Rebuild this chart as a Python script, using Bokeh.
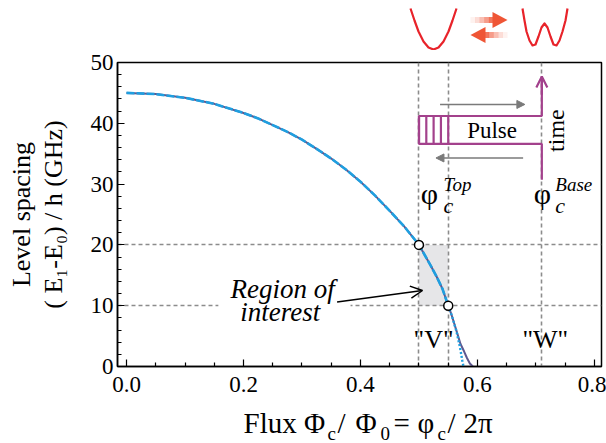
import math
from bokeh.plotting import figure
from bokeh.layouts import column
from bokeh.models import (Range1d, FixedTicker, Label, Arrow, OpenHead, NormalHead, BoxAnnotation,
                          NumeralTickFormatter, LinearAxis)
from bokeh.embed import file_html
from bokeh.resources import INLINE

SERIF = "Liberation Serif"

# ---------------- data ----------------
main_flux = [0.00, 0.05, 0.10, 0.15, 0.20, 0.225, 0.25, 0.275, 0.30, 0.325, 0.35, 0.375,
             0.40, 0.425, 0.45, 0.475, 0.50, 0.51, 0.52, 0.53, 0.54, 0.55]
main_gap = [45.0, 44.8, 44.2, 43.2, 41.7, 40.8, 39.7, 38.6, 37.3, 35.8, 34.2, 32.4,
            30.4, 28.1, 25.6, 23.0, 20.0, 18.3, 16.6, 14.8, 12.8, 10.0]
exact_tail_flux = [0.55, 0.556, 0.564, 0.571, 0.577, 0.582, 0.587, 0.592]
exact_tail_gap = [10.0, 8.4, 5.9, 3.7, 2.5, 1.4, 0.5, 0.0]
approx_tail_flux = [0.55, 0.556, 0.564, 0.570, 0.574, 0.576]
approx_tail_gap = [10.0, 8.4, 5.8, 3.2, 1.0, 0.0]

roi_flux = [0.50, 0.55]
roi_gap = [20.0, 10.0]
phi_base = 0.71

x_ticks = [0.0, 0.2, 0.4, 0.6, 0.8]
x_minor = [0.05, 0.10, 0.15, 0.25, 0.30, 0.35, 0.45, 0.50, 0.55, 0.65, 0.70, 0.75]
y_ticks = [0, 10, 20, 30, 40, 50]
y_minor = [2, 4, 6, 8, 12, 14, 16, 18, 22, 24, 26, 28, 32, 34, 36, 38, 42, 44, 46, 48]

# pulse sketch (magenta)
pulse_x = [0.71, 0.71, 0.50, 0.50, 0.71, 0.71]
pulse_y = [30.7, 36.6, 36.6, 41.2, 41.2, 47.7]
hatch_x = [0.50, 0.5125, 0.525, 0.5375, 0.55]

# top icons (page pixel coordinates)
v_icon_x = [410, 414, 418, 423, 428, 433, 438, 443, 448, 452, 456]
v_icon_y = [8, 20, 31, 41, 47, 49, 47, 41, 31, 20, 8]
w_icon_x = [522, 524, 526, 529, 532, 535, 538, 541, 544, 547, 550, 553, 556, 559, 562, 565, 567]
w_icon_y = [8, 20, 31, 40, 45, 44, 36, 27, 23, 27, 36, 44, 45, 40, 31, 20, 8]

FRAME_L, FRAME_R = 117, 601
TOP_H, MAIN_H = 50, 356
BOT_H = 443 - TOP_H - MAIN_H


def dlabel(fig, text, x, y, size, style="normal", align="left", baseline="alphabetic", angle=0.0, lift=True):
    fig.add_layout(Label(x=x, y=y, text=text, text_font=SERIF, text_font_size=f"{size}px",
                         text_font_style=style, text_color="black", text_align=align,
                         text_baseline=baseline, angle=angle,
                         y_offset=round(0.3 * size) if lift else 0))


def strip(height, y0, y1):
    f = figure(width=606, height=height, x_range=Range1d(FRAME_L, FRAME_R), y_range=Range1d(y1, y0),
               output_backend="svg", toolbar_location=None, min_border_left=FRAME_L,
               min_border_right=606 - FRAME_R, min_border_top=0, min_border_bottom=0)
    f.axis.visible = False
    f.grid.visible = False
    f.outline_line_color = None
    return f


# ---------------- top strip with V / W icons ----------------
top = strip(TOP_H, 0, TOP_H)
RED = "#e8232a"
top.line(v_icon_x, v_icon_y, line_color=RED, line_width=2.2, line_join="round")
top.line(w_icon_x, w_icon_y, line_color=RED, line_width=2.2, line_join="round")

ARW = "#ef5535"
shaft_alpha = [0.08, 0.2, 0.38, 0.58, 0.8]
seg = (493 - 470) / len(shaft_alpha)
for i, a in enumerate(shaft_alpha):
    top.quad(left=470 + i * seg, right=470 + (i + 1) * seg + 0.3, top=16.5, bottom=22.5,
             fill_color=ARW, fill_alpha=a, line_color=None)
top.patch([492, 507, 492], [11.5, 19.5, 27.5], fill_color=ARW, line_color=None)
seg = (507 - 484) / len(shaft_alpha)
for i, a in enumerate(shaft_alpha):
    top.quad(left=507 - (i + 1) * seg - 0.3, right=507 - i * seg, top=31.5, bottom=37.5,
             fill_color=ARW, fill_alpha=a, line_color=None)
top.patch([485, 470, 485], [26.5, 34.5, 42.5], fill_color=ARW, line_color=None)

# ---------------- main plot ----------------
p = figure(width=606, height=MAIN_H, x_range=Range1d(-0.0154, 0.812), y_range=Range1d(0, 50),
           output_backend="svg", toolbar_location=None,
           min_border_left=FRAME_L, min_border_right=606 - FRAME_R, min_border_top=62 - TOP_H,
           min_border_bottom=TOP_H + MAIN_H - 366)
p.grid.visible = False
p.outline_line_color = "black"
p.outline_line_width = 1.5

outer = LinearAxis(axis_label="Level spacing", ticker=FixedTicker(ticks=[]),
                   axis_line_color=None, major_tick_line_color=None, minor_tick_line_color=None,
                   major_label_text_font_size="0px")
p.add_layout(outer, "left")

for ax, ticks, minor in ((p.xaxis[0], x_ticks, x_minor), (p.yaxis[0], y_ticks, y_minor)):
    ax.ticker = FixedTicker(ticks=ticks, minor_ticks=minor)
    ax.axis_line_color = "black"
    ax.axis_line_width = 1.5
    ax.major_tick_in = 7
    ax.major_tick_out = 0
    ax.minor_tick_in = 4
    ax.minor_tick_out = 0
    ax.major_tick_line_color = "black"
    ax.minor_tick_line_color = "black"
    ax.major_tick_line_width = 1.2
    ax.minor_tick_line_width = 1.2
    ax.major_label_text_font = SERIF
    ax.major_label_text_font_size = "23px"
    ax.major_label_text_color = "black"
p.xaxis[0].axis_label = None
p.xaxis[0].formatter = NumeralTickFormatter(format="0.0")
p.xaxis[0].major_label_standoff = 10
p.yaxis[0].major_label_standoff = 4
p.yaxis[0].axis_label = "( E\u2081-E\u2080) / h (GHz)"
p.yaxis[0].axis_label_standoff = 20
for ax in (p.yaxis[0], outer):
    ax.axis_label_text_font = SERIF
    ax.axis_label_text_font_size = "26px"
    ax.axis_label_text_font_style = "normal"
    ax.axis_label_text_color = "black"
outer.axis_label_standoff = 0

GRID = "#8c8c8c"
p.quad(left=[min(roi_flux)], right=[max(roi_flux)], bottom=[min(roi_gap)], top=[max(roi_gap)],
       fill_color="#e6e6e8", line_color=None)
p.vspan(x=roi_flux + [phi_base], line_color=GRID, line_width=1.6, line_dash="4 3")
p.hspan(y=roi_gap, line_color=GRID, line_width=1.6, line_dash="4 3")

PURPLE = "#5e5890"
CYAN = "#1f9fe0"
p.line(main_flux + exact_tail_flux[1:], main_gap + exact_tail_gap[1:], line_color=PURPLE, line_width=2.0)
p.line(main_flux, main_gap, line_color=CYAN, line_width=2.6, line_dash="8 2")
p.line(approx_tail_flux, approx_tail_gap, line_color=CYAN, line_width=2.4, line_dash="2 2")

p.scatter(roi_flux, roi_gap, size=9, fill_color="white", line_color="black", line_width=1.5)

MAG = "#a3418c"
p.line(pulse_x, pulse_y, line_color=MAG, line_width=2.2)
p.segment(x0=hatch_x, y0=[pulse_y[2]] * len(hatch_x), x1=hatch_x, y1=[pulse_y[3]] * len(hatch_x),
          line_color=MAG, line_width=2.2)
p.add_layout(Arrow(x_start=phi_base, y_start=pulse_y[-1] - 3, x_end=phi_base, y_end=pulse_y[-1],
                   line_color=MAG, line_width=2.2,
                   end=OpenHead(size=11, line_color=MAG, line_width=2.2)))
GREY = "#7a7a7a"
p.add_layout(Arrow(x_start=0.536, y_start=43.1, x_end=0.681, y_end=43.1, line_color=GREY, line_width=1.4,
                   end=NormalHead(size=8, fill_color=GREY, line_color=GREY)))
p.add_layout(Arrow(x_start=0.678, y_start=34.3, x_end=0.529, y_end=34.3, line_color=GREY, line_width=1.4,
                   end=NormalHead(size=8, fill_color=GREY, line_color=GREY)))

dlabel(p, "Pulse", 0.625, 37.7, 23, align="center")
dlabel(p, "time", 0.7345, 38.8, 24, align="center", baseline="middle", angle=math.pi / 2, lift=False)

dlabel(p, "φ", 0.503, 28.5, 30, lift=False)
dlabel(p, "c", 0.542, 26.5, 22, style="italic", lift=False)
dlabel(p, "Top", 0.542, 30.0, 19, style="italic", lift=False)
dlabel(p, "φ", 0.696, 28.5, 30, lift=False)
dlabel(p, "c", 0.733, 26.5, 22, style="italic", lift=False)
dlabel(p, "Base", 0.733, 30.0, 19, style="italic", lift=False)

dlabel(p, "\"V\"", 0.525, 3.1, 26, align="center")
dlabel(p, "\"W\"", 0.716, 3.1, 26, align="center")

p.add_layout(BoxAnnotation(left=0.157, right=0.383, bottom=8.6, top=11.4, fill_color="white",
                           fill_alpha=1.0, line_color=None))
p.add_layout(Arrow(x_start=0.360, y_start=10.6, x_end=0.506, y_end=12.5, line_color="black", line_width=1.5,
                   end=OpenHead(size=12, line_color="black", line_width=1.5)))
dlabel(p, "Region of", 0.267, 11.35, 27, style="italic", align="center")
dlabel(p, "interest", 0.263, 7.6, 27, style="italic", align="center")

# ---------------- bottom strip with the x label ----------------
y0 = TOP_H + MAIN_H
bot = strip(BOT_H, y0, 443)
xlab_text = ["Flux Φ", "c", "/", "Φ", "0", "=", "φ", "c", "/", "2π"]
xlab_left = [243, 327, 337, 355, 380, 393, 417, 437, 447, 463]
xlab_size = [29, 19, 29, 29, 19, 29, 29, 19, 29, 29]
xlab_base = [431, 439, 431, 431, 439, 431, 431, 439, 431, 431]
for t, xl, s, yb in zip(xlab_text, xlab_left, xlab_size, xlab_base):
    dlabel(bot, t, xl, yb, s)

layout = column(top, p, bot, spacing=0)
open("out.html", "w").write(file_html(layout, INLINE))
